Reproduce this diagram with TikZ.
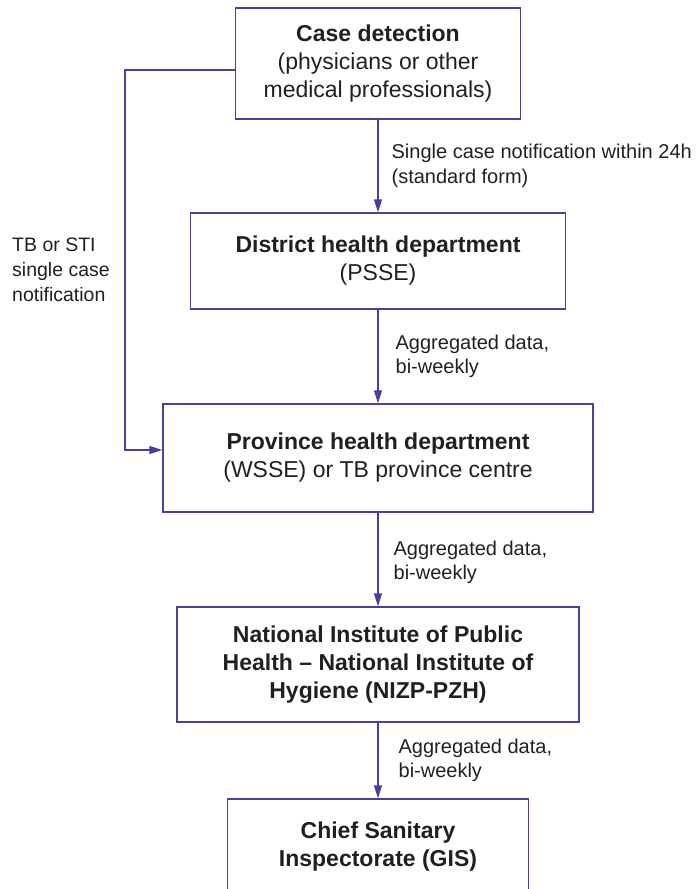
\documentclass[tikz,border=0pt]{standalone}
\usepackage{fontspec}
\setmainfont{Liberation Sans}
\usepackage{xcolor}
\usetikzlibrary{arrows.meta}
\definecolor{flowblue}{RGB}{78,62,155}
\definecolor{inkgray}{RGB}{35,31,32}

\begin{document}
\begin{tikzpicture}[x=1pt,y=-1pt,>={Triangle[length=13pt,width=8pt]},
  box/.style={draw=flowblue,line width=1.3pt,align=center,inner sep=0pt,
    text=inkgray,font=\fontsize{23}{28}\selectfont},
  lbl/.style={align=left,inner sep=0pt,text=inkgray,
    font=\fontsize{20}{24.5}\selectfont},
  flow/.style={->,draw=flowblue,line width=1.3pt}]
\useasboundingbox (0,0) rectangle (698,889);

% reporting levels
\node[box,minimum width=285pt,minimum height=111pt] (detect) at (378,63.5)
  {\textbf{Case detection}\\(physicians or other\\medical professionals)};
\node[box,minimum width=375pt,minimum height=96pt] (district) at (378,261)
  {\textbf{District health department}\\(PSSE)};
\node[box,minimum width=430pt,minimum height=108pt] (province) at (378,458)
  {\textbf{Province health department}\\(WSSE) or TB province centre};
\node[box,minimum width=402pt,minimum height=115pt] (national) at (378,664.5)
  {\textbf{National Institute of Public}\\\textbf{Health -- National Institute of}\\\textbf{Hygiene (NIZP-PZH)}};
\node[box,minimum width=301pt,minimum height=96pt] (chief) at (378,847)
  {\textbf{Chief Sanitary}\\\textbf{Inspectorate (GIS)}};

% main reporting chain
\draw[flow] (detect.south) -- (district.north)
  node[lbl,midway,right=13pt] {Single case notification within 24h\\(standard form)};
\draw[flow] (district.south) -- (province.north)
  node[lbl,midway,right=17pt] {Aggregated data,\\bi-weekly};
\draw[flow] (province.south) -- (national.north)
  node[lbl,midway,right=15pt,yshift=-3pt] {Aggregated data,\\bi-weekly};
\draw[flow] (national.south) -- (chief.north)
  node[lbl,midway,right=20pt] {Aggregated data,\\bi-weekly};

% TB / STI bypass
\draw[flow] ([yshift=-6.5pt]detect.west) -- ++(-110,0) |- ([yshift=8pt]province.west);
\node[lbl,anchor=west,font=\fontsize{19.5}{25}\selectfont] (tbnote) at (12,270)
  {TB or STI\\single case\\notification};
\end{tikzpicture}
\end{document}
